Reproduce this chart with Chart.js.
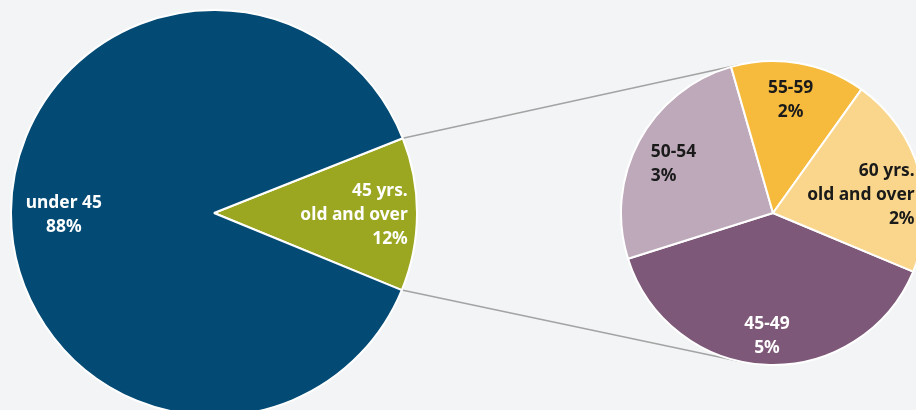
<!DOCTYPE html>
<html>
<head>
<meta charset="utf-8">
<script src="https://cdn.jsdelivr.net/npm/chart.js@4.4.0/dist/chart.umd.min.js"></script>
<style>
  html, body { margin: 0; padding: 0; background: #f3f4f6; overflow: hidden; width: 916px; height: 410px; }
  canvas { position: absolute; }
  #links { left: 0; top: 0; }
  #mainPie { left: 10px; top: 9px; }
  #detailPie { left: 619px; top: 59px; }
</style>
</head>
<body>
<canvas id="links" width="916" height="410"></canvas>
<canvas id="mainPie" width="408" height="408"></canvas>
<canvas id="detailPie" width="308" height="308"></canvas>
<script>
// Age split (left pie)
const mainLabels = [['45 yrs.', 'old and over'], ['under 45']];
const mainValues = [12.2, 87.8];
const mainPercent = ['12%', '88%'];

// Breakdown of the 45+ group (right pie)
const detailLabels = [['45-49'], ['50-54'], ['55-59'], ['60 yrs.', 'old and over']];
const detailValues = [4.66, 3.05, 1.72, 2.57];
const detailPercent = ['5%', '3%', '2%', '2%'];

const FONT = 'bold 17.4px "Noto Sans", "Open Sans", sans-serif';

// draws multi-line labels inside each slice
const sliceLabels = {
    id: 'sliceLabels',
    afterDatasetsDraw(chart, args, opts) {
        const ctx = chart.ctx;
        const arcs = chart.getDatasetMeta(0).data;
        ctx.save();
        ctx.font = FONT;
        ctx.textBaseline = 'middle';
        arcs.forEach((arc, i) => {
            const p = arc.getProps(['x', 'y', 'startAngle', 'endAngle', 'outerRadius'], true);
            const ang = (p.startAngle + p.endAngle) / 2 + opts.shift[i] * Math.PI / 180;
            const r = p.outerRadius * opts.dist[i];
            const cx = p.x + Math.cos(ang) * r;
            const cy = p.y + Math.sin(ang) * r;
            const lines = opts.text[i];
            const w = Math.max(...lines.map(l => ctx.measureText(l).width));
            const align = opts.align[i];
            const x = align === 'left' ? cx - w / 2 : align === 'right' ? cx + w / 2 : cx;
            ctx.textAlign = align;
            ctx.fillStyle = opts.colors[i];
            lines.forEach((l, k) => {
                ctx.fillText(l, x, cy + (k - (lines.length - 1) / 2) * opts.lineHeight);
            });
        });
        ctx.restore();
    }
};

const baseOptions = {
    responsive: false,
    animation: false,
    events: [],
    layout: { padding: 0 },
    plugins: { legend: { display: false }, tooltip: { enabled: false } }
};

const mainChart = new Chart(document.getElementById('mainPie'), {
    type: 'pie',
    data: {
        labels: mainLabels.map(l => l.join(' ')),
        datasets: [{
            data: mainValues,
            backgroundColor: ['#9ba621', '#034a74'],
            borderColor: '#ffffff',
            borderWidth: 2,
            radius: 203
        }]
    },
    options: {
        ...baseOptions,
        rotation: 68.4,
        plugins: {
            ...baseOptions.plugins,
            sliceLabels: {
                text: mainLabels.map((l, i) => [...l, mainPercent[i]]),
                dist: [0.69, 0.74],
                shift: [0.4, -1],
                align: ['right', 'center'],
                colors: ['#ffffff', '#ffffff'],
                lineHeight: 24
            }
        }
    },
    plugins: [sliceLabels]
});

const detailChart = new Chart(document.getElementById('detailPie'), {
    type: 'pie',
    data: {
        labels: detailLabels.map(l => l.join(' ')),
        datasets: [{
            data: detailValues,
            backgroundColor: ['#7e5878', '#bea9ba', '#f6bb3d', '#f9d68b'],
            borderColor: '#ffffff',
            borderWidth: 2,
            radius: 152
        }]
    },
    options: {
        ...baseOptions,
        rotation: 112.7,
        plugins: {
            ...baseOptions.plugins,
            sliceLabels: {
                text: detailLabels.map((l, i) => [...l, detailPercent[i]]),
                dist: [0.81, 0.73, 0.75, 0.59],
                shift: [0.2, -2, -0.9, 4.2],
                align: ['center', 'left', 'center', 'right'],
                colors: ['#ffffff', '#1a1a1a', '#1a1a1a', '#1a1a1a'],
                lineHeight: 24
            }
        }
    },
    plugins: [sliceLabels]
});

// connector lines from the 45+ slice to the detail pie
function drawLinks() {
    const ctx = document.getElementById('links').getContext('2d');
    const mainCanvas = document.getElementById('mainPie');
    const detailCanvas = document.getElementById('detailPie');
    const a = mainChart.getDatasetMeta(0).data[0].getProps(['x', 'y', 'startAngle', 'endAngle', 'outerRadius'], true);
    const s = detailChart.getDatasetMeta(0).data[0].getProps(['x', 'y', 'outerRadius'], true);
    const bx = a.x + mainCanvas.offsetLeft, by = a.y + mainCanvas.offsetTop;
    const sx = s.x + detailCanvas.offsetLeft, sy = s.y + detailCanvas.offsetTop, sr = s.outerRadius;
    ctx.strokeStyle = '#a3a3a3';
    ctx.lineWidth = 1.5;
    [a.startAngle, a.endAngle].forEach((ang, k) => {
        const px = bx + Math.cos(ang) * a.outerRadius;
        const py = by + Math.sin(ang) * a.outerRadius;
        const d = Math.hypot(px - sx, py - sy);
        const base = Math.atan2(py - sy, px - sx);
        const off = Math.acos(sr / d);
        const t = k === 0 ? base + off : base - off;
        ctx.beginPath();
        ctx.moveTo(px, py);
        ctx.lineTo(sx + Math.cos(t) * sr, sy + Math.sin(t) * sr);
        ctx.stroke();
    });
}
drawLinks();
</script>
</body>
</html>
